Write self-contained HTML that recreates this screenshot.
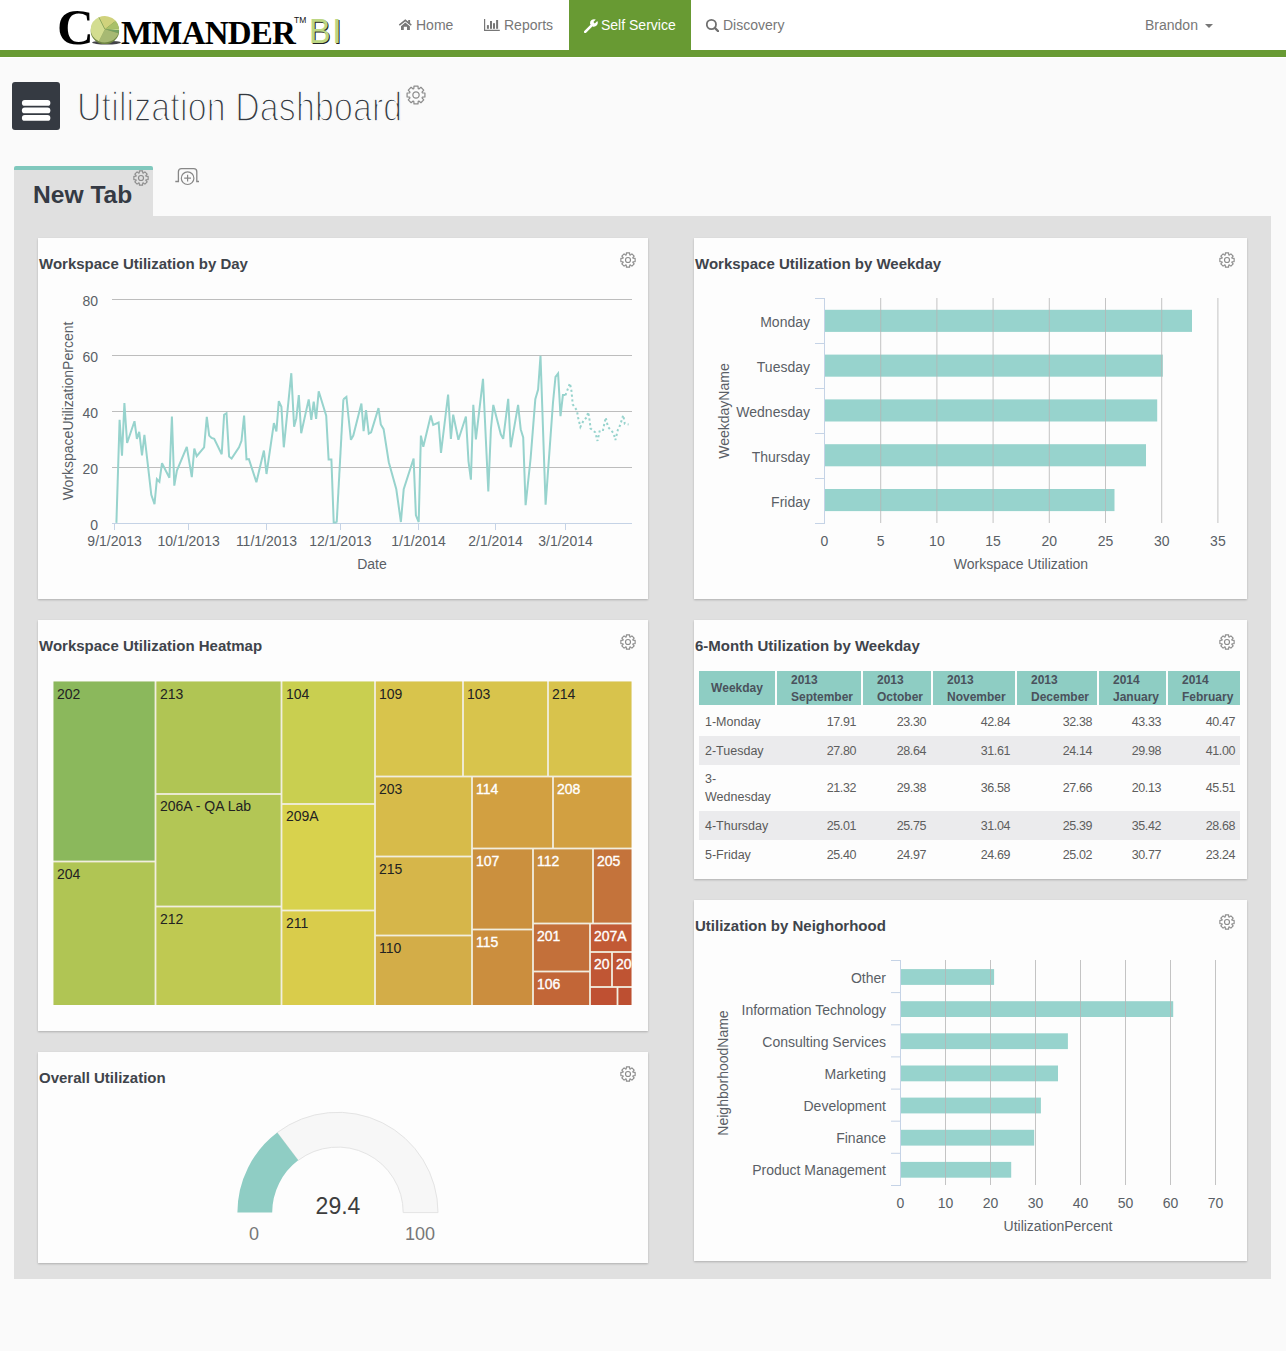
<!DOCTYPE html>
<html><head><meta charset="utf-8"><title>Utilization Dashboard</title>
<style>
*{box-sizing:border-box;margin:0;padding:0}
html,body{width:1286px;height:1351px;overflow:hidden;background:#fafafa;font-family:"Liberation Sans", sans-serif}
.a{position:absolute}
.nav{position:absolute;left:0;top:0;width:1286px;height:57px;background:#fff;border-bottom:7px solid #689a33}
.navi{position:absolute;top:17px;font-size:14px;color:#777;line-height:16px;white-space:nowrap}
.panel{position:absolute;background:#fdfdfd;box-shadow:0 1px 2px rgba(0,0,0,0.22)}
.ptitle{position:absolute;left:1px;top:16.5px;font-size:15px;font-weight:bold;color:#3f444b;white-space:nowrap;line-height:18px}
.lbl{position:absolute;font-size:14px;color:#5a5f66;white-space:nowrap;line-height:16px}
.tm{position:absolute;font-size:14px;line-height:16px;padding:4px 0 0 4px;white-space:nowrap;overflow:hidden;color:#222}
.tmw{color:#fff;font-weight:normal;-webkit-text-stroke:0.35px #fff}
table{border-collapse:separate;border-spacing:0}
</style></head><body>
<div class="a" style="left:0;top:0;width:1286px;height:1351px;background:#fafafa"></div>

<div class="nav"></div>
<div class="a" style="left:0;top:57px;width:1286px;height:1px;background:#fff"></div>
<div class="a" style="left:58px;top:0;width:290px;height:50px;overflow:hidden">
<div class="a" style="left:-1px;top:-1px;font-family:'Liberation Serif',serif;font-weight:bold;font-size:51px;line-height:56px;color:#000">C</div>
<svg class="a" style="left:30px;top:14px" width="36" height="34" viewBox="0 0 36 34">
<ellipse cx="18.5" cy="28.6" rx="14.3" ry="1.9" fill="#2e2e33" opacity="0.9"/>
<ellipse cx="16.9" cy="16.900000000000002" rx="14.2" ry="13.2" fill="#6e8442"/>
<path d="M16.9,15.3 L10.90,3.34 A14.2,13.2 0 0 1 27.78,6.82 Z" fill="#d0d27c"/>
<path d="M16.9,15.3 L27.78,6.82 A14.2,13.2 0 0 1 31.09,14.84 Z" fill="#a9c068"/>
<path d="M16.9,15.3 L31.09,14.84 A14.2,13.2 0 0 1 31.07,16.22 Z" fill="#c3d78a"/>
<path d="M16.9,15.3 L31.07,16.22 A14.2,13.2 0 0 1 30.48,19.16 Z" fill="#74a162"/>
<path d="M16.9,15.3 L30.48,19.16 A14.2,13.2 0 0 1 10.90,27.26 Z" fill="#a7b973"/>
<path d="M16.9,15.3 L10.90,27.26 A14.2,13.2 0 0 1 10.90,3.34 Z" fill="#d3dd90"/>
<path d="M16.9,15.3 L10.90,3.34" stroke="#86a458" stroke-width="0.8"/>
</svg>
<div class="a" style="left:63px;top:15px;font-family:'Liberation Serif',serif;font-weight:bold;font-size:33px;line-height:36px;color:#000;letter-spacing:-0.8px">MMANDER</div>
<div class="a" style="left:236px;top:15px;font-family:'Liberation Sans',sans-serif;font-size:8.5px;line-height:10px;color:#111;font-weight:normal">TM</div>
<div class="a" style="left:251px;top:11px;font-family:'Liberation Sans',sans-serif;font-size:35px;line-height:40px;color:#bcd683;transform:scaleX(0.92);transform-origin:0 0;text-shadow:1px 1px 0 #222">B</div>
<div class="a" style="left:274px;top:11px;font-family:'Liberation Sans',sans-serif;font-size:35px;line-height:40px;color:#bcd683;text-shadow:1px 1px 0 #222">I</div>
</div>
<svg class="a" style="left:398px;top:18px" width="15" height="13" viewBox="0 0 15 13"><path d="M1.3 7.2 L7.3 2.3 L13.3 7.2" fill="none" stroke="#777" stroke-width="1.5"/><rect x="10.2" y="2" width="1.9" height="3.6" fill="#777"/><path d="M3 8.2 L7.3 4.6 L11.9 8.2 V12 H9 V8.7 H5.8 V12 H3 Z" fill="#777"/></svg>
<div class="navi" style="left:416px">Home</div>
<svg class="a" style="left:484px;top:19px" width="16" height="12" viewBox="0 0 16 12"><path d="M0.6 0 V11.4 H15.8" fill="none" stroke="#777" stroke-width="1.2"/><rect x="2.9" y="6.1" width="2" height="3.7" fill="#777"/><rect x="6" y="2" width="2" height="7.8" fill="#777"/><rect x="9" y="4.2" width="2" height="5.6" fill="#777"/><rect x="12.1" y="1" width="2" height="8.8" fill="#777"/></svg>
<div class="navi" style="left:504px">Reports</div>
<div class="a" style="left:569px;top:0;width:122px;height:50px;background:#689a33"></div>
<svg class="a" style="left:584px;top:19px" width="14" height="14" viewBox="0 0 14 14"><path d="M1.2 12.8 L7.2 6.8" stroke="#fff" stroke-width="2.6" stroke-linecap="round"/><path d="M6.2 5.2 A4 4 0 0 1 11.8 0.6 L9.4 3 L10.8 4.4 L13.3 1.9 A4 4 0 0 1 8.6 7.6 Z" fill="#fff"/></svg>
<div class="navi" style="left:601px;color:#fff">Self Service</div>
<svg class="a" style="left:706px;top:19px" width="13" height="13" viewBox="0 0 13 13"><circle cx="5.4" cy="5.5" r="4.6" fill="none" stroke="#707070" stroke-width="1.8"/><path d="M8.8 8.9 L12.2 12.3" stroke="#707070" stroke-width="2.2" stroke-linecap="round"/></svg>
<div class="navi" style="left:723px">Discovery</div>
<div class="navi" style="left:1145px">Brandon</div>
<svg class="a" style="left:1205px;top:24px" width="8" height="4" viewBox="0 0 8 4"><path d="M0 0 H8 L4 4 Z" fill="#777"/></svg>
<div class="a" style="left:12px;top:82px;width:48px;height:48px;background:#353a42;border-radius:3px"></div>
<svg class="a" style="left:0;top:0" width="70" height="140" viewBox="0 0 70 140"><rect x="21.9" y="100" width="28.5" height="5.8" rx="2.9" fill="#fff"/><rect x="21.9" y="107.5" width="28.5" height="5.8" rx="2.9" fill="#fff"/><rect x="21.9" y="115" width="28.5" height="5.8" rx="2.9" fill="#fff"/></svg>
<div class="a" style="left:77px;top:85.3px;font-size:41px;line-height:44px;color:#33383f;white-space:nowrap;font-weight:normal;transform:scaleX(0.826);transform-origin:0 0;-webkit-text-stroke:1.6px #fafafa;letter-spacing:0.2px">Utilization Dashboard</div>
<svg style="position:absolute;left:406.0px;top:85.0px" width="20" height="20" viewBox="-10.5 -10.5 21 21"><path d="M-2.33,-6.60 L-2.10,-9.37 L2.10,-9.37 L2.33,-6.60 L3.02,-6.32 L5.14,-8.11 L8.11,-5.14 L6.32,-3.02 L6.60,-2.33 L9.37,-2.10 L9.37,2.10 L6.60,2.33 L6.32,3.02 L8.11,5.14 L5.14,8.11 L3.02,6.32 L2.33,6.60 L2.10,9.37 L-2.10,9.37 L-2.33,6.60 L-3.02,6.32 L-5.14,8.11 L-8.11,5.14 L-6.32,3.02 L-6.60,2.33 L-9.37,2.10 L-9.37,-2.10 L-6.60,-2.33 L-6.32,-3.02 L-8.11,-5.14 L-5.14,-8.11 L-3.02,-6.32Z" fill="none" stroke="#8c8c8c" stroke-width="1.3" stroke-linejoin="round"/><circle cx="0" cy="0" r="3.3" fill="none" stroke="#8c8c8c" stroke-width="1.3"/></svg>
<div class="a" style="left:14px;top:166px;width:139px;height:50px;background:#e0e0e0;border-top:4px solid #80c8bd;border-radius:2px 2px 0 0"></div>
<div class="a" style="left:33px;top:180.5px;font-size:24.6px;font-weight:bold;color:#353a44;line-height:28px;white-space:nowrap">New Tab</div>
<svg style="position:absolute;left:133.0px;top:170.0px" width="16" height="16" viewBox="-10.5 -10.5 21 21"><path d="M-2.33,-6.60 L-2.10,-9.37 L2.10,-9.37 L2.33,-6.60 L3.02,-6.32 L5.14,-8.11 L8.11,-5.14 L6.32,-3.02 L6.60,-2.33 L9.37,-2.10 L9.37,2.10 L6.60,2.33 L6.32,3.02 L8.11,5.14 L5.14,8.11 L3.02,6.32 L2.33,6.60 L2.10,9.37 L-2.10,9.37 L-2.33,6.60 L-3.02,6.32 L-5.14,8.11 L-8.11,5.14 L-6.32,3.02 L-6.60,2.33 L-9.37,2.10 L-9.37,-2.10 L-6.60,-2.33 L-6.32,-3.02 L-8.11,-5.14 L-5.14,-8.11 L-3.02,-6.32Z" fill="none" stroke="#8c8c8c" stroke-width="1.5" stroke-linejoin="round"/><circle cx="0" cy="0" r="3.3" fill="none" stroke="#8c8c8c" stroke-width="1.5"/></svg>
<svg class="a" style="left:174px;top:167px" width="26" height="19" viewBox="0 0 26 19"><path d="M1.3 14.5 H4.4 V4.8 Q4.4 1.7 7.5 1.7 H19.7 Q22.8 1.7 22.8 4.8 V14.5 H25" fill="none" stroke="#878787" stroke-width="1.3"/><circle cx="13.6" cy="11.2" r="6.3" fill="#fafafa" stroke="#878787" stroke-width="1.2"/><path d="M13.6 7.8 V14.6 M10.2 11.2 H17" stroke="#878787" stroke-width="1.2"/></svg>
<div class="a" style="left:14px;top:216px;width:1257px;height:1063px;background:#e0e0e0"></div>
<div class="panel" style="left:38px;top:238px;width:610px;height:361px"><div class="ptitle">Workspace Utilization by Day</div></div>
<svg style="position:absolute;left:619.5px;top:252.0px" width="16" height="16" viewBox="-10.5 -10.5 21 21"><path d="M-2.33,-6.60 L-2.10,-9.37 L2.10,-9.37 L2.33,-6.60 L3.02,-6.32 L5.14,-8.11 L8.11,-5.14 L6.32,-3.02 L6.60,-2.33 L9.37,-2.10 L9.37,2.10 L6.60,2.33 L6.32,3.02 L8.11,5.14 L5.14,8.11 L3.02,6.32 L2.33,6.60 L2.10,9.37 L-2.10,9.37 L-2.33,6.60 L-3.02,6.32 L-5.14,8.11 L-8.11,5.14 L-6.32,3.02 L-6.60,2.33 L-9.37,2.10 L-9.37,-2.10 L-6.60,-2.33 L-6.32,-3.02 L-8.11,-5.14 L-5.14,-8.11 L-3.02,-6.32Z" fill="none" stroke="#8c8c8c" stroke-width="1.5" stroke-linejoin="round"/><circle cx="0" cy="0" r="3.3" fill="none" stroke="#8c8c8c" stroke-width="1.5"/></svg>
<svg class="a" style="left:0;top:0" width="1286" height="1351" viewBox="0 0 1286 1351"><line x1="112" y1="467.5" x2="632" y2="467.5" stroke="#bdbdbd" stroke-width="1"/><line x1="112" y1="411.5" x2="632" y2="411.5" stroke="#bdbdbd" stroke-width="1"/><line x1="112" y1="355.5" x2="632" y2="355.5" stroke="#bdbdbd" stroke-width="1"/><line x1="112" y1="299.5" x2="632" y2="299.5" stroke="#bdbdbd" stroke-width="1"/><line x1="112" y1="523.5" x2="632" y2="523.5" stroke="#c5d3e6" stroke-width="1"/><line x1="114.5" y1="523.5" x2="114.5" y2="530" stroke="#c5d3e6" stroke-width="1"/><line x1="188.5" y1="523.5" x2="188.5" y2="530" stroke="#c5d3e6" stroke-width="1"/><line x1="266.5" y1="523.5" x2="266.5" y2="530" stroke="#c5d3e6" stroke-width="1"/><line x1="340.5" y1="523.5" x2="340.5" y2="530" stroke="#c5d3e6" stroke-width="1"/><line x1="418.5" y1="523.5" x2="418.5" y2="530" stroke="#c5d3e6" stroke-width="1"/><line x1="495.5" y1="523.5" x2="495.5" y2="530" stroke="#c5d3e6" stroke-width="1"/><line x1="565.5" y1="523.5" x2="565.5" y2="530" stroke="#c5d3e6" stroke-width="1"/><polyline points="116.4,522.9 119.6,419.9 122.0,455.7 124.4,403.1 127.1,443.0 134.5,421.2 136.9,438.9 139.2,431.8 142.0,455.3 144.4,434.8 151.3,494.9 154.5,504.2 156.9,479.0 159.4,481.8 162.0,463.2 169.4,477.7 171.9,416.5 174.3,485.6 176.9,470.6 186.8,446.8 191.8,477.2 194.3,448.6 196.7,456.1 204.1,447.3 206.8,416.9 209.2,435.6 211.6,438.0 214.2,438.9 221.7,454.2 224.1,414.7 226.5,413.2 229.1,456.6 231.6,458.5 239.0,447.3 241.5,440.8 244.1,415.6 246.5,459.4 248.9,459.1 256.4,482.2 263.9,450.5 266.5,474.0 273.9,423.1 276.4,431.5 278.8,401.2 281.4,406.8 283.8,447.3 291.3,373.2 294.1,426.8 296.3,418.4 298.8,395.1 301.2,433.3 308.7,399.4 311.3,419.9 313.7,401.6 316.1,418.8 318.7,391.3 326.2,415.6 328.6,459.4 331.4,459.4 333.7,522.5 336.7,522.5" fill="none" stroke="#97d3cd" stroke-width="2" stroke-linejoin="miter" stroke-miterlimit="3"/><polyline points="343.4,399.3 346.4,396.9 350.9,439.8 353.3,435.6 361.4,403.5 363.6,431.1 366.0,410.0 368.8,433.7 371.1,432.4 378.5,408.1 380.8,424.4 383.6,429.2 388.8,462.2 396.3,489.3 400.9,522.0 403.7,489.3 413.6,458.5 415.9,515.4 418.7,522.0 420.9,435.6 423.3,446.8 430.8,415.6 433.2,424.9 438.6,422.5 441.0,452.9 448.1,394.5 450.9,438.9 453.2,414.7 458.4,439.8 465.9,416.5 468.5,461.3 470.9,479.6 473.3,404.9 475.9,439.3 483.0,378.8 488.3,491.5 490.9,429.2 493.3,404.9 500.8,434.3 503.2,438.9 508.2,398.8 510.7,447.3 518.1,404.9 520.7,429.2 523.2,437.4 525.6,505.2 530.6,458.5 535.3,399.3 538.1,389.5 540.5,355.9 545.6,504.6 553.0,402.5 555.5,377.0 558.1,373.6 560.5,416.1 562.9,395.1 565.5,395.1" fill="none" stroke="#97d3cd" stroke-width="2" stroke-linejoin="miter" stroke-miterlimit="3"/><polyline points="336.7,522.5 343.4,399.3" fill="none" stroke="#97d3cd" stroke-width="2"/><polyline points="565.5,395.1 569.9,383.3 571.5,391.1 572.7,404.3 576.9,410.5 578.1,417.5 580.4,426.9 583.9,419.9 586.7,417.5 588.2,412.1 589.8,421.4 590.5,428.4 595.2,432.3 597.5,440.9 599.9,430.0 603.0,430.0 605.7,417.5 608.0,426.9 610.0,429.2 613.5,433.1 615.4,440.1 617.8,430.0 620.1,425.3 623.2,415.2 624.8,423.8 628.6,424.5" fill="none" stroke="#97d3cd" stroke-width="2" stroke-dasharray="2.2,2.6"/></svg>
<div class="lbl" style="left:58px;width:40px;text-align:right;top:516.5px">0</div>
<div class="lbl" style="left:58px;width:40px;text-align:right;top:460.5px">20</div>
<div class="lbl" style="left:58px;width:40px;text-align:right;top:404.5px">40</div>
<div class="lbl" style="left:58px;width:40px;text-align:right;top:348.5px">60</div>
<div class="lbl" style="left:58px;width:40px;text-align:right;top:292.5px">80</div>
<div class="lbl" style="left:64.6px;width:100px;text-align:center;top:533px">9/1/2013</div>
<div class="lbl" style="left:138.6px;width:100px;text-align:center;top:533px">10/1/2013</div>
<div class="lbl" style="left:216.5px;width:100px;text-align:center;top:533px">11/1/2013</div>
<div class="lbl" style="left:290.4px;width:100px;text-align:center;top:533px">12/1/2013</div>
<div class="lbl" style="left:368.5px;width:100px;text-align:center;top:533px">1/1/2014</div>
<div class="lbl" style="left:445.5px;width:100px;text-align:center;top:533px">2/1/2014</div>
<div class="lbl" style="left:515.5px;width:100px;text-align:center;top:533px">3/1/2014</div>
<div class="lbl" style="left:322px;width:100px;text-align:center;top:556px">Date</div>
<div class="lbl" style="left:-32.5px;width:200px;text-align:center;top:403px;transform:rotate(-90deg)">WorkspaceUtilizationPercent</div>
<div class="panel" style="left:694px;top:238px;width:553px;height:361px"><div class="ptitle">Workspace Utilization by Weekday</div></div>
<svg style="position:absolute;left:1219.0px;top:252.0px" width="16" height="16" viewBox="-10.5 -10.5 21 21"><path d="M-2.33,-6.60 L-2.10,-9.37 L2.10,-9.37 L2.33,-6.60 L3.02,-6.32 L5.14,-8.11 L8.11,-5.14 L6.32,-3.02 L6.60,-2.33 L9.37,-2.10 L9.37,2.10 L6.60,2.33 L6.32,3.02 L8.11,5.14 L5.14,8.11 L3.02,6.32 L2.33,6.60 L2.10,9.37 L-2.10,9.37 L-2.33,6.60 L-3.02,6.32 L-5.14,8.11 L-8.11,5.14 L-6.32,3.02 L-6.60,2.33 L-9.37,2.10 L-9.37,-2.10 L-6.60,-2.33 L-6.32,-3.02 L-8.11,-5.14 L-5.14,-8.11 L-3.02,-6.32Z" fill="none" stroke="#8c8c8c" stroke-width="1.5" stroke-linejoin="round"/><circle cx="0" cy="0" r="3.3" fill="none" stroke="#8c8c8c" stroke-width="1.5"/></svg>
<svg class="a" style="left:0;top:0" width="1286" height="1351" viewBox="0 0 1286 1351"><rect x="824.5" y="309.8" width="367.5" height="22.1" fill="#97d3cd"/><rect x="824.5" y="354.6" width="338.3" height="22.1" fill="#97d3cd"/><rect x="824.5" y="399.4" width="332.7" height="22.1" fill="#97d3cd"/><rect x="824.5" y="444.2" width="321.5" height="22.1" fill="#97d3cd"/><rect x="824.5" y="489.0" width="290.0" height="22.1" fill="#97d3cd"/><line x1="880.7" y1="298" x2="880.7" y2="523" stroke="#b5b5b5" stroke-opacity="0.8" stroke-width="1"/><line x1="936.9" y1="298" x2="936.9" y2="523" stroke="#b5b5b5" stroke-opacity="0.8" stroke-width="1"/><line x1="993.1" y1="298" x2="993.1" y2="523" stroke="#b5b5b5" stroke-opacity="0.8" stroke-width="1"/><line x1="1049.3" y1="298" x2="1049.3" y2="523" stroke="#b5b5b5" stroke-opacity="0.8" stroke-width="1"/><line x1="1105.5" y1="298" x2="1105.5" y2="523" stroke="#b5b5b5" stroke-opacity="0.8" stroke-width="1"/><line x1="1161.7" y1="298" x2="1161.7" y2="523" stroke="#b5b5b5" stroke-opacity="0.8" stroke-width="1"/><line x1="1217.9" y1="298" x2="1217.9" y2="523" stroke="#b5b5b5" stroke-opacity="0.8" stroke-width="1"/><line x1="824.5" y1="298" x2="824.5" y2="524" stroke="#c5d3e6" stroke-width="1"/><line x1="815" y1="298.5" x2="824.5" y2="298.5" stroke="#c5d3e6" stroke-width="1"/><line x1="815" y1="343.5" x2="824.5" y2="343.5" stroke="#c5d3e6" stroke-width="1"/><line x1="815" y1="388.5" x2="824.5" y2="388.5" stroke="#c5d3e6" stroke-width="1"/><line x1="815" y1="433.5" x2="824.5" y2="433.5" stroke="#c5d3e6" stroke-width="1"/><line x1="815" y1="478.5" x2="824.5" y2="478.5" stroke="#c5d3e6" stroke-width="1"/><line x1="815" y1="523.5" x2="824.5" y2="523.5" stroke="#c5d3e6" stroke-width="1"/></svg>
<div class="lbl" style="left:700px;width:110px;text-align:right;top:314.0px">Monday</div>
<div class="lbl" style="left:700px;width:110px;text-align:right;top:359.0px">Tuesday</div>
<div class="lbl" style="left:700px;width:110px;text-align:right;top:404.0px">Wednesday</div>
<div class="lbl" style="left:700px;width:110px;text-align:right;top:449.0px">Thursday</div>
<div class="lbl" style="left:700px;width:110px;text-align:right;top:494.0px">Friday</div>
<div class="lbl" style="left:794.5px;width:60px;text-align:center;top:533px">0</div>
<div class="lbl" style="left:850.7px;width:60px;text-align:center;top:533px">5</div>
<div class="lbl" style="left:906.9px;width:60px;text-align:center;top:533px">10</div>
<div class="lbl" style="left:963.1px;width:60px;text-align:center;top:533px">15</div>
<div class="lbl" style="left:1019.3px;width:60px;text-align:center;top:533px">20</div>
<div class="lbl" style="left:1075.5px;width:60px;text-align:center;top:533px">25</div>
<div class="lbl" style="left:1131.7px;width:60px;text-align:center;top:533px">30</div>
<div class="lbl" style="left:1187.9px;width:60px;text-align:center;top:533px">35</div>
<div class="lbl" style="left:921px;width:200px;text-align:center;top:556px">Workspace Utilization</div>
<div class="lbl" style="left:624px;width:200px;text-align:center;top:403px;transform:rotate(-90deg)">WeekdayName</div>
<div class="panel" style="left:38px;top:620px;width:610px;height:411px"><div class="ptitle">Workspace Utilization Heatmap</div></div>
<svg style="position:absolute;left:619.5px;top:634.0px" width="16" height="16" viewBox="-10.5 -10.5 21 21"><path d="M-2.33,-6.60 L-2.10,-9.37 L2.10,-9.37 L2.33,-6.60 L3.02,-6.32 L5.14,-8.11 L8.11,-5.14 L6.32,-3.02 L6.60,-2.33 L9.37,-2.10 L9.37,2.10 L6.60,2.33 L6.32,3.02 L8.11,5.14 L5.14,8.11 L3.02,6.32 L2.33,6.60 L2.10,9.37 L-2.10,9.37 L-2.33,6.60 L-3.02,6.32 L-5.14,8.11 L-8.11,5.14 L-6.32,3.02 L-6.60,2.33 L-9.37,2.10 L-9.37,-2.10 L-6.60,-2.33 L-6.32,-3.02 L-8.11,-5.14 L-5.14,-8.11 L-3.02,-6.32Z" fill="none" stroke="#8c8c8c" stroke-width="1.5" stroke-linejoin="round"/><circle cx="0" cy="0" r="3.3" fill="none" stroke="#8c8c8c" stroke-width="1.5"/></svg>
<svg class="a" style="left:0;top:0" width="1286" height="1351" viewBox="0 0 1286 1351"><rect x="53.5" y="681.5" width="578" height="323.5" fill="#f1eedf"/><rect x="53.50" y="681.50" width="101.10" height="179.10" fill="#8bb85c"/><rect x="53.50" y="862.40" width="101.10" height="142.60" fill="#b0c554"/><rect x="156.40" y="681.50" width="124.20" height="111.60" fill="#b0c554"/><rect x="156.40" y="794.90" width="124.20" height="110.70" fill="#b3c655"/><rect x="156.40" y="907.40" width="124.20" height="97.60" fill="#bfc952"/><rect x="282.40" y="681.50" width="91.70" height="121.60" fill="#c9cf50"/><rect x="282.40" y="804.90" width="91.70" height="104.70" fill="#d8d24d"/><rect x="282.40" y="911.40" width="91.70" height="93.60" fill="#d9cc4b"/><rect x="375.90" y="681.50" width="86.20" height="94.10" fill="#d8c44c"/><rect x="463.90" y="681.50" width="83.20" height="94.10" fill="#d8c44c"/><rect x="548.90" y="681.50" width="82.60" height="94.10" fill="#d8c34c"/><rect x="375.90" y="777.40" width="95.20" height="78.20" fill="#d7bb4a"/><rect x="375.90" y="857.40" width="95.20" height="77.20" fill="#d6b64a"/><rect x="375.90" y="936.40" width="95.20" height="68.60" fill="#d3ad48"/><rect x="472.90" y="777.40" width="79.20" height="70.20" fill="#d2a041"/><rect x="553.90" y="777.40" width="77.60" height="70.20" fill="#d2a041"/><rect x="472.90" y="849.40" width="59.20" height="79.20" fill="#cb903e"/><rect x="472.90" y="930.40" width="59.20" height="74.60" fill="#cb8e3e"/><rect x="533.90" y="849.40" width="58.20" height="73.20" fill="#c98e3e"/><rect x="593.90" y="849.40" width="37.60" height="73.20" fill="#c4733b"/><rect x="533.90" y="924.40" width="55.20" height="46.20" fill="#c3703a"/><rect x="533.90" y="972.40" width="55.20" height="32.60" fill="#c26637"/><rect x="590.90" y="924.40" width="40.60" height="26.70" fill="#c25a35"/><rect x="590.90" y="952.90" width="20.20" height="33.20" fill="#c05634"/><rect x="612.90" y="952.90" width="18.60" height="33.20" fill="#bf5433"/><rect x="590.90" y="987.90" width="25.70" height="17.10" fill="#bf5032"/><rect x="618.40" y="987.90" width="13.10" height="17.10" fill="#bd4f31"/></svg>
<div class="tm" style="left:53px;top:682px;width:102px;height:180px">202</div>
<div class="tm" style="left:53px;top:862px;width:102px;height:143px">204</div>
<div class="tm" style="left:156px;top:682px;width:125px;height:112px">213</div>
<div class="tm" style="left:156px;top:794px;width:125px;height:112px">206A - QA Lab</div>
<div class="tm" style="left:156px;top:907px;width:125px;height:98px">212</div>
<div class="tm" style="left:282px;top:682px;width:92px;height:122px">104</div>
<div class="tm" style="left:282px;top:804px;width:92px;height:106px">209A</div>
<div class="tm" style="left:282px;top:911px;width:92px;height:94px">211</div>
<div class="tm" style="left:375px;top:682px;width:88px;height:94px">109</div>
<div class="tm" style="left:463px;top:682px;width:84px;height:94px">103</div>
<div class="tm" style="left:548px;top:682px;width:84px;height:94px">214</div>
<div class="tm" style="left:375px;top:777px;width:96px;height:79px">203</div>
<div class="tm" style="left:375px;top:857px;width:96px;height:78px">215</div>
<div class="tm" style="left:375px;top:936px;width:96px;height:69px">110</div>
<div class="tm tmw" style="left:472px;top:777px;width:80px;height:71px">114</div>
<div class="tm tmw" style="left:553px;top:777px;width:78px;height:71px">208</div>
<div class="tm tmw" style="left:472px;top:849px;width:60px;height:80px">107</div>
<div class="tm tmw" style="left:472px;top:930px;width:60px;height:75px">115</div>
<div class="tm tmw" style="left:533px;top:849px;width:60px;height:74px">112</div>
<div class="tm tmw" style="left:593px;top:849px;width:38px;height:74px">205</div>
<div class="tm tmw" style="left:533px;top:924px;width:56px;height:47px">201</div>
<div class="tm tmw" style="left:533px;top:972px;width:56px;height:33px">106</div>
<div class="tm tmw" style="left:590px;top:924px;width:42px;height:28px">207A</div>
<div class="tm tmw" style="left:590px;top:952px;width:22px;height:34px">20</div>
<div class="tm tmw" style="left:612px;top:952px;width:20px;height:34px">20</div>
<div class="panel" style="left:694px;top:620px;width:553px;height:259px"><div class="ptitle">6-Month Utilization by Weekday</div></div>
<svg style="position:absolute;left:1219.0px;top:634.0px" width="16" height="16" viewBox="-10.5 -10.5 21 21"><path d="M-2.33,-6.60 L-2.10,-9.37 L2.10,-9.37 L2.33,-6.60 L3.02,-6.32 L5.14,-8.11 L8.11,-5.14 L6.32,-3.02 L6.60,-2.33 L9.37,-2.10 L9.37,2.10 L6.60,2.33 L6.32,3.02 L8.11,5.14 L5.14,8.11 L3.02,6.32 L2.33,6.60 L2.10,9.37 L-2.10,9.37 L-2.33,6.60 L-3.02,6.32 L-5.14,8.11 L-8.11,5.14 L-6.32,3.02 L-6.60,2.33 L-9.37,2.10 L-9.37,-2.10 L-6.60,-2.33 L-6.32,-3.02 L-8.11,-5.14 L-5.14,-8.11 L-3.02,-6.32Z" fill="none" stroke="#8c8c8c" stroke-width="1.5" stroke-linejoin="round"/><circle cx="0" cy="0" r="3.3" fill="none" stroke="#8c8c8c" stroke-width="1.5"/></svg>
<div class="a" style="left:699px;top:671px;width:76px;height:34px;background:#8ecdc3"></div>
<div class="a" style="left:699px;top:681px;width:76px;text-align:center;font-size:12px;font-weight:bold;color:#4a525c;line-height:15px">Weekday</div>
<div class="a" style="left:777px;top:671px;width:84px;height:34px;background:#8ecdc3"></div>
<div class="a" style="left:791px;top:672px;font-size:12px;font-weight:bold;color:#4a525c;line-height:17px;white-space:nowrap">2013<br>September</div>
<div class="a" style="left:863px;top:671px;width:68px;height:34px;background:#8ecdc3"></div>
<div class="a" style="left:877px;top:672px;font-size:12px;font-weight:bold;color:#4a525c;line-height:17px;white-space:nowrap">2013<br>October</div>
<div class="a" style="left:933px;top:671px;width:82px;height:34px;background:#8ecdc3"></div>
<div class="a" style="left:947px;top:672px;font-size:12px;font-weight:bold;color:#4a525c;line-height:17px;white-space:nowrap">2013<br>November</div>
<div class="a" style="left:1017px;top:671px;width:80px;height:34px;background:#8ecdc3"></div>
<div class="a" style="left:1031px;top:672px;font-size:12px;font-weight:bold;color:#4a525c;line-height:17px;white-space:nowrap">2013<br>December</div>
<div class="a" style="left:1099px;top:671px;width:67px;height:34px;background:#8ecdc3"></div>
<div class="a" style="left:1113px;top:672px;font-size:12px;font-weight:bold;color:#4a525c;line-height:17px;white-space:nowrap">2014<br>January</div>
<div class="a" style="left:1168px;top:671px;width:72px;height:34px;background:#8ecdc3"></div>
<div class="a" style="left:1182px;top:672px;font-size:12px;font-weight:bold;color:#4a525c;line-height:17px;white-space:nowrap">2014<br>February</div>
<div class="a" style="left:699px;top:705px;width:541px;height:31.0px;background:#fdfdfd"></div>
<div class="a" style="left:705px;top:713.5px;font-size:12.5px;color:#5a5a5a;line-height:16px;white-space:nowrap">1-Monday</div>
<div class="a" style="left:796px;width:60px;text-align:right;top:713.5px;font-size:12.5px;color:#5e5e5e;line-height:16px;letter-spacing:-0.4px">17.91</div>
<div class="a" style="left:866px;width:60px;text-align:right;top:713.5px;font-size:12.5px;color:#5e5e5e;line-height:16px;letter-spacing:-0.4px">23.30</div>
<div class="a" style="left:950px;width:60px;text-align:right;top:713.5px;font-size:12.5px;color:#5e5e5e;line-height:16px;letter-spacing:-0.4px">42.84</div>
<div class="a" style="left:1032px;width:60px;text-align:right;top:713.5px;font-size:12.5px;color:#5e5e5e;line-height:16px;letter-spacing:-0.4px">32.38</div>
<div class="a" style="left:1101px;width:60px;text-align:right;top:713.5px;font-size:12.5px;color:#5e5e5e;line-height:16px;letter-spacing:-0.4px">43.33</div>
<div class="a" style="left:1175px;width:60px;text-align:right;top:713.5px;font-size:12.5px;color:#5e5e5e;line-height:16px;letter-spacing:-0.4px">40.47</div>
<div class="a" style="left:699px;top:736px;width:541px;height:28.5px;background:#ebebed"></div>
<div class="a" style="left:705px;top:742.8px;font-size:12.5px;color:#5a5a5a;line-height:16px;white-space:nowrap">2-Tuesday</div>
<div class="a" style="left:796px;width:60px;text-align:right;top:742.8px;font-size:12.5px;color:#5e5e5e;line-height:16px;letter-spacing:-0.4px">27.80</div>
<div class="a" style="left:866px;width:60px;text-align:right;top:742.8px;font-size:12.5px;color:#5e5e5e;line-height:16px;letter-spacing:-0.4px">28.64</div>
<div class="a" style="left:950px;width:60px;text-align:right;top:742.8px;font-size:12.5px;color:#5e5e5e;line-height:16px;letter-spacing:-0.4px">31.61</div>
<div class="a" style="left:1032px;width:60px;text-align:right;top:742.8px;font-size:12.5px;color:#5e5e5e;line-height:16px;letter-spacing:-0.4px">24.14</div>
<div class="a" style="left:1101px;width:60px;text-align:right;top:742.8px;font-size:12.5px;color:#5e5e5e;line-height:16px;letter-spacing:-0.4px">29.98</div>
<div class="a" style="left:1175px;width:60px;text-align:right;top:742.8px;font-size:12.5px;color:#5e5e5e;line-height:16px;letter-spacing:-0.4px">41.00</div>
<div class="a" style="left:699px;top:764.5px;width:541px;height:46.0px;background:#fdfdfd"></div>
<div class="a" style="left:705px;top:771.0px;font-size:12.5px;color:#5a5a5a;line-height:17.5px;white-space:nowrap">3-<br>Wednesday</div>
<div class="a" style="left:796px;width:60px;text-align:right;top:779.5px;font-size:12.5px;color:#5e5e5e;line-height:16px;letter-spacing:-0.4px">21.32</div>
<div class="a" style="left:866px;width:60px;text-align:right;top:779.5px;font-size:12.5px;color:#5e5e5e;line-height:16px;letter-spacing:-0.4px">29.38</div>
<div class="a" style="left:950px;width:60px;text-align:right;top:779.5px;font-size:12.5px;color:#5e5e5e;line-height:16px;letter-spacing:-0.4px">36.58</div>
<div class="a" style="left:1032px;width:60px;text-align:right;top:779.5px;font-size:12.5px;color:#5e5e5e;line-height:16px;letter-spacing:-0.4px">27.66</div>
<div class="a" style="left:1101px;width:60px;text-align:right;top:779.5px;font-size:12.5px;color:#5e5e5e;line-height:16px;letter-spacing:-0.4px">20.13</div>
<div class="a" style="left:1175px;width:60px;text-align:right;top:779.5px;font-size:12.5px;color:#5e5e5e;line-height:16px;letter-spacing:-0.4px">45.51</div>
<div class="a" style="left:699px;top:810.5px;width:541px;height:29.0px;background:#ebebed"></div>
<div class="a" style="left:705px;top:817.5px;font-size:12.5px;color:#5a5a5a;line-height:16px;white-space:nowrap">4-Thursday</div>
<div class="a" style="left:796px;width:60px;text-align:right;top:817.5px;font-size:12.5px;color:#5e5e5e;line-height:16px;letter-spacing:-0.4px">25.01</div>
<div class="a" style="left:866px;width:60px;text-align:right;top:817.5px;font-size:12.5px;color:#5e5e5e;line-height:16px;letter-spacing:-0.4px">25.75</div>
<div class="a" style="left:950px;width:60px;text-align:right;top:817.5px;font-size:12.5px;color:#5e5e5e;line-height:16px;letter-spacing:-0.4px">31.04</div>
<div class="a" style="left:1032px;width:60px;text-align:right;top:817.5px;font-size:12.5px;color:#5e5e5e;line-height:16px;letter-spacing:-0.4px">25.39</div>
<div class="a" style="left:1101px;width:60px;text-align:right;top:817.5px;font-size:12.5px;color:#5e5e5e;line-height:16px;letter-spacing:-0.4px">35.42</div>
<div class="a" style="left:1175px;width:60px;text-align:right;top:817.5px;font-size:12.5px;color:#5e5e5e;line-height:16px;letter-spacing:-0.4px">28.68</div>
<div class="a" style="left:699px;top:839.5px;width:541px;height:29.5px;background:#fdfdfd"></div>
<div class="a" style="left:705px;top:847.2px;font-size:12.5px;color:#5a5a5a;line-height:16px;white-space:nowrap">5-Friday</div>
<div class="a" style="left:796px;width:60px;text-align:right;top:847.2px;font-size:12.5px;color:#5e5e5e;line-height:16px;letter-spacing:-0.4px">25.40</div>
<div class="a" style="left:866px;width:60px;text-align:right;top:847.2px;font-size:12.5px;color:#5e5e5e;line-height:16px;letter-spacing:-0.4px">24.97</div>
<div class="a" style="left:950px;width:60px;text-align:right;top:847.2px;font-size:12.5px;color:#5e5e5e;line-height:16px;letter-spacing:-0.4px">24.69</div>
<div class="a" style="left:1032px;width:60px;text-align:right;top:847.2px;font-size:12.5px;color:#5e5e5e;line-height:16px;letter-spacing:-0.4px">25.02</div>
<div class="a" style="left:1101px;width:60px;text-align:right;top:847.2px;font-size:12.5px;color:#5e5e5e;line-height:16px;letter-spacing:-0.4px">30.77</div>
<div class="a" style="left:1175px;width:60px;text-align:right;top:847.2px;font-size:12.5px;color:#5e5e5e;line-height:16px;letter-spacing:-0.4px">23.24</div>
<div class="panel" style="left:694px;top:900px;width:553px;height:361px"><div class="ptitle">Utilization by Neighorhood</div></div>
<svg style="position:absolute;left:1219.0px;top:914.0px" width="16" height="16" viewBox="-10.5 -10.5 21 21"><path d="M-2.33,-6.60 L-2.10,-9.37 L2.10,-9.37 L2.33,-6.60 L3.02,-6.32 L5.14,-8.11 L8.11,-5.14 L6.32,-3.02 L6.60,-2.33 L9.37,-2.10 L9.37,2.10 L6.60,2.33 L6.32,3.02 L8.11,5.14 L5.14,8.11 L3.02,6.32 L2.33,6.60 L2.10,9.37 L-2.10,9.37 L-2.33,6.60 L-3.02,6.32 L-5.14,8.11 L-8.11,5.14 L-6.32,3.02 L-6.60,2.33 L-9.37,2.10 L-9.37,-2.10 L-6.60,-2.33 L-6.32,-3.02 L-8.11,-5.14 L-5.14,-8.11 L-3.02,-6.32Z" fill="none" stroke="#8c8c8c" stroke-width="1.5" stroke-linejoin="round"/><circle cx="0" cy="0" r="3.3" fill="none" stroke="#8c8c8c" stroke-width="1.5"/></svg>
<svg class="a" style="left:0;top:0" width="1286" height="1351" viewBox="0 0 1286 1351"><rect x="900.5" y="969.1" width="93.6" height="15.8" fill="#97d3cd"/><rect x="900.5" y="1001.2" width="272.7" height="15.8" fill="#97d3cd"/><rect x="900.5" y="1033.3" width="167.4" height="15.8" fill="#97d3cd"/><rect x="900.5" y="1065.5" width="157.5" height="15.8" fill="#97d3cd"/><rect x="900.5" y="1097.6" width="140.4" height="15.8" fill="#97d3cd"/><rect x="900.5" y="1129.8" width="133.7" height="15.8" fill="#97d3cd"/><rect x="900.5" y="1161.9" width="110.7" height="15.8" fill="#97d3cd"/><line x1="945.5" y1="960" x2="945.5" y2="1185" stroke="#b5b5b5" stroke-opacity="0.8" stroke-width="1"/><line x1="990.5" y1="960" x2="990.5" y2="1185" stroke="#b5b5b5" stroke-opacity="0.8" stroke-width="1"/><line x1="1035.5" y1="960" x2="1035.5" y2="1185" stroke="#b5b5b5" stroke-opacity="0.8" stroke-width="1"/><line x1="1080.5" y1="960" x2="1080.5" y2="1185" stroke="#b5b5b5" stroke-opacity="0.8" stroke-width="1"/><line x1="1125.5" y1="960" x2="1125.5" y2="1185" stroke="#b5b5b5" stroke-opacity="0.8" stroke-width="1"/><line x1="1170.5" y1="960" x2="1170.5" y2="1185" stroke="#b5b5b5" stroke-opacity="0.8" stroke-width="1"/><line x1="1215.5" y1="960" x2="1215.5" y2="1185" stroke="#b5b5b5" stroke-opacity="0.8" stroke-width="1"/><line x1="900.5" y1="960" x2="900.5" y2="1186" stroke="#c5d3e6" stroke-width="1"/><line x1="891" y1="960.5" x2="900.5" y2="960.5" stroke="#c5d3e6" stroke-width="1"/><line x1="891" y1="992.6" x2="900.5" y2="992.6" stroke="#c5d3e6" stroke-width="1"/><line x1="891" y1="1024.8" x2="900.5" y2="1024.8" stroke="#c5d3e6" stroke-width="1"/><line x1="891" y1="1056.9" x2="900.5" y2="1056.9" stroke="#c5d3e6" stroke-width="1"/><line x1="891" y1="1089.1" x2="900.5" y2="1089.1" stroke="#c5d3e6" stroke-width="1"/><line x1="891" y1="1121.2" x2="900.5" y2="1121.2" stroke="#c5d3e6" stroke-width="1"/><line x1="891" y1="1153.3" x2="900.5" y2="1153.3" stroke="#c5d3e6" stroke-width="1"/><line x1="891" y1="1185.5" x2="900.5" y2="1185.5" stroke="#c5d3e6" stroke-width="1"/></svg>
<div class="lbl" style="left:686px;width:200px;text-align:right;top:969.6px">Other</div>
<div class="lbl" style="left:686px;width:200px;text-align:right;top:1001.7px">Information Technology</div>
<div class="lbl" style="left:686px;width:200px;text-align:right;top:1033.8px">Consulting Services</div>
<div class="lbl" style="left:686px;width:200px;text-align:right;top:1066.0px">Marketing</div>
<div class="lbl" style="left:686px;width:200px;text-align:right;top:1098.1px">Development</div>
<div class="lbl" style="left:686px;width:200px;text-align:right;top:1130.3px">Finance</div>
<div class="lbl" style="left:686px;width:200px;text-align:right;top:1162.4px">Product Management</div>
<div class="lbl" style="left:870.5px;width:60px;text-align:center;top:1195px">0</div>
<div class="lbl" style="left:915.5px;width:60px;text-align:center;top:1195px">10</div>
<div class="lbl" style="left:960.5px;width:60px;text-align:center;top:1195px">20</div>
<div class="lbl" style="left:1005.5px;width:60px;text-align:center;top:1195px">30</div>
<div class="lbl" style="left:1050.5px;width:60px;text-align:center;top:1195px">40</div>
<div class="lbl" style="left:1095.5px;width:60px;text-align:center;top:1195px">50</div>
<div class="lbl" style="left:1140.5px;width:60px;text-align:center;top:1195px">60</div>
<div class="lbl" style="left:1185.5px;width:60px;text-align:center;top:1195px">70</div>
<div class="lbl" style="left:958px;width:200px;text-align:center;top:1218px">UtilizationPercent</div>
<div class="lbl" style="left:623px;width:200px;text-align:center;top:1065px;transform:rotate(-90deg)">NeighborhoodName</div>
<div class="panel" style="left:38px;top:1052px;width:610px;height:211px"><div class="ptitle">Overall Utilization</div></div>
<svg style="position:absolute;left:619.5px;top:1066.0px" width="16" height="16" viewBox="-10.5 -10.5 21 21"><path d="M-2.33,-6.60 L-2.10,-9.37 L2.10,-9.37 L2.33,-6.60 L3.02,-6.32 L5.14,-8.11 L8.11,-5.14 L6.32,-3.02 L6.60,-2.33 L9.37,-2.10 L9.37,2.10 L6.60,2.33 L6.32,3.02 L8.11,5.14 L5.14,8.11 L3.02,6.32 L2.33,6.60 L2.10,9.37 L-2.10,9.37 L-2.33,6.60 L-3.02,6.32 L-5.14,8.11 L-8.11,5.14 L-6.32,3.02 L-6.60,2.33 L-9.37,2.10 L-9.37,-2.10 L-6.60,-2.33 L-6.32,-3.02 L-8.11,-5.14 L-5.14,-8.11 L-3.02,-6.32Z" fill="none" stroke="#8c8c8c" stroke-width="1.5" stroke-linejoin="round"/><circle cx="0" cy="0" r="3.3" fill="none" stroke="#8c8c8c" stroke-width="1.5"/></svg>
<svg class="a" style="left:0;top:0" width="1286" height="1351" viewBox="0 0 1286 1351"><path d="M277.23,1132.58 A100.3,100.3 0 0 1 438.00,1212.60 L403.20,1212.60 A65.5,65.5 0 0 0 298.21,1160.34 Z" fill="#f7f7f7" stroke="#e4e4e4" stroke-width="1"/><path d="M237.40,1212.60 A100.3,100.3 0 0 1 277.23,1132.58 L298.21,1160.34 A65.5,65.5 0 0 0 272.20,1212.60 Z" fill="#8fcdc4"/></svg>
<div class="a" style="left:288px;width:100px;text-align:center;top:1191.5px;font-size:23px;line-height:28px;color:#3d3d3d">29.4</div>
<div class="a" style="left:224px;width:60px;text-align:center;top:1224px;font-size:18px;line-height:21px;color:#777">0</div>
<div class="a" style="left:390px;width:60px;text-align:center;top:1224px;font-size:18px;line-height:21px;color:#777">100</div>
</body></html>
